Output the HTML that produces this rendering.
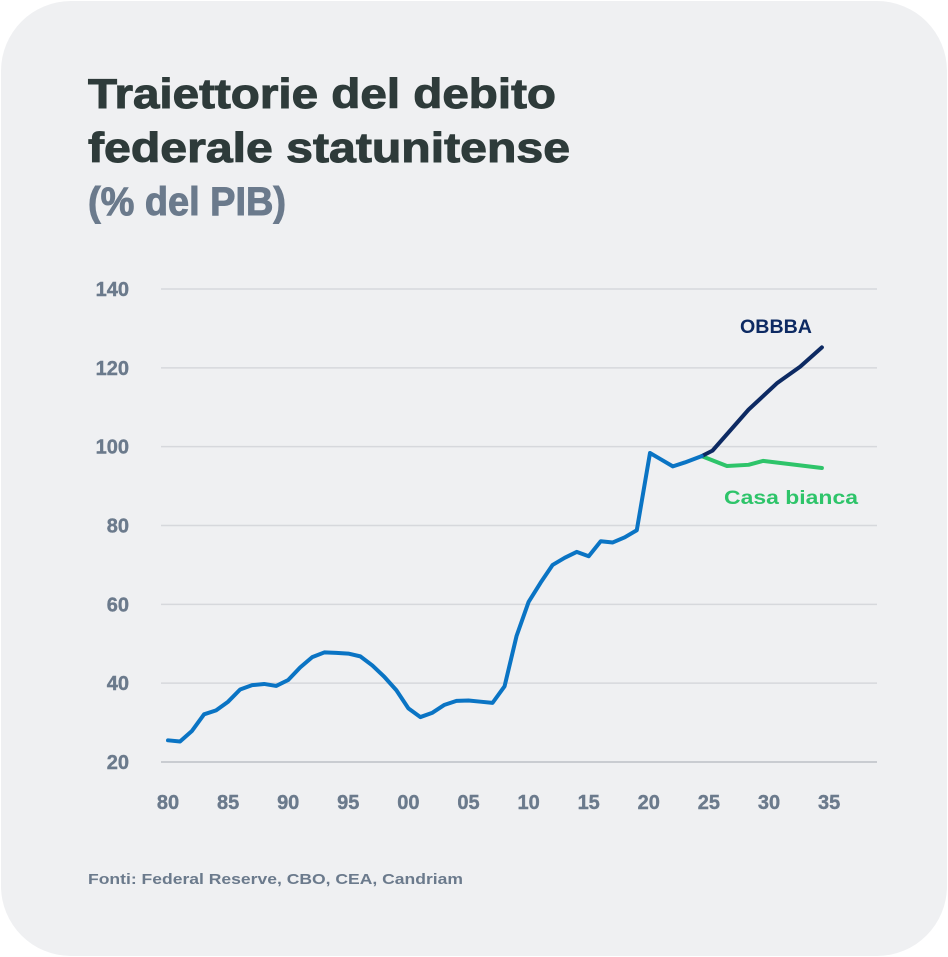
<!DOCTYPE html>
<html><head><meta charset="utf-8"><style>
html,body{margin:0;padding:0;background:#fff;}
svg{display:block;font-family:"Liberation Sans",sans-serif;}
</style></head><body>
<svg id="chart" width="948" height="957" viewBox="0 0 948 957">
<rect x="1" y="1" width="946" height="955" rx="70" fill="#eff0f2"/>
<text x="88" y="108" font-size="42" font-weight="bold" fill="#2e3b3a" stroke="#2e3b3a" stroke-width="1" textLength="468" lengthAdjust="spacingAndGlyphs">Traiettorie del debito</text>
<text x="88" y="162" font-size="42" font-weight="bold" fill="#2e3b3a" stroke="#2e3b3a" stroke-width="1" textLength="482" lengthAdjust="spacingAndGlyphs">federale statunitense</text>
<text x="88" y="215" font-size="40" font-weight="bold" fill="#6b7a8c" stroke="#6b7a8c" stroke-width="1" textLength="198" lengthAdjust="spacingAndGlyphs">(% del PIB)</text>
<g id="grid"></g><g id="yticks"></g><g id="xticks"></g><g id="lines"></g>
<text x="740" y="333" font-size="19" font-weight="bold" fill="#0d2a63" textLength="72" lengthAdjust="spacingAndGlyphs">OBBBA</text>
<text x="724" y="504" font-size="19" font-weight="bold" fill="#2ec46a" textLength="134" lengthAdjust="spacingAndGlyphs">Casa bianca</text>
<text x="88" y="884" font-size="15" font-weight="bold" fill="#6b7a8c" textLength="375" lengthAdjust="spacingAndGlyphs">Fonti: Federal Reserve, CBO, CEA, Candriam</text>
</svg>
<script>
const yTicks=[20,40,60,80,100,120,140];
const xTickYears=[80,85,90,95,100,105,110,115,120,125,130,135];
const xTickLabels=["80","85","90","95","00","05","10","15","20","25","30","35"];
const histYears=[80,81,82,83,84,85,86,87,88,89,90,91,92,93,94,95,96,97,98,99,100,101,102,103,104,105,106,107,108,109,110,111,112,113,114,115,116,117,118,119,120.1,121,122,123,124.4];
const histValues=[25.5,25.2,27.9,32.1,33.1,35.3,38.4,39.5,39.8,39.3,40.8,44.0,46.6,47.8,47.7,47.5,46.8,44.5,41.6,38.2,33.6,31.4,32.5,34.5,35.5,35.6,35.3,35.0,39.2,52.0,60.6,65.5,70.0,71.8,73.3,72.2,76.0,75.7,77.0,78.8,98.4,96.8,95.0,96.0,97.6];
const obbbaYears=[124.4,125.3,128.3,130.7,132.6,134.4];
const obbbaValues=[97.6,99.0,109.4,116.2,120.3,125.2];
const whYears=[124.4,126.5,128.3,129.5,134.4];
const whValues=[97.6,95.1,95.4,96.4,94.6];
const NS="http://www.w3.org/2000/svg";
const xS=y=>168+12.02*(y-80);
const yS=v=>762-(v-20)*78.83/20;
function mk(t,a,p){const e=document.createElementNS(NS,t);for(const k in a)e.setAttribute(k,a[k]);p.appendChild(e);return e;}
const grid=document.getElementById('grid'),yt=document.getElementById('yticks'),xt=document.getElementById('xticks'),ln=document.getElementById('lines');
yTicks.forEach(v=>{
 const l=mk('line',{x1:161,x2:877,y1:yS(v),y2:yS(v),stroke:v===20?'#c9ccd1':'#d6d8dc','stroke-width':v===20?2:1.5},grid);
 
 
 const t=mk('text',{x:129,y:yS(v)+7,'text-anchor':'end','font-size':20,'font-weight':'bold',fill:'#6b7a8c',stroke:'#6b7a8c','stroke-width':0.4},yt);
 t.textContent=v;
 
 
});
xTickYears.forEach((y,i)=>{
 const t=mk('text',{x:xS(y),y:809,'text-anchor':'middle','font-size':20,'font-weight':'bold',fill:'#6b7a8c',stroke:'#6b7a8c','stroke-width':0.4},xt);
 t.textContent=xTickLabels[i];
 
 
});
function line(xs,vs,color,name){
 const p=mk('polyline',{points:xs.map((x,i)=>xS(x)+','+yS(vs[i])).join(' '),fill:'none',stroke:color,'stroke-width':4,'stroke-linejoin':'round','stroke-linecap':'round'},ln);
 
 
}
line(whYears,whValues,'#2ec46a','casa-bianca-line');
line(obbbaYears,obbbaValues,'#0d2a63','obbba-line');
line(histYears,histValues,'#0a74c4','historical-debt-line');
</script>
</body></html>
